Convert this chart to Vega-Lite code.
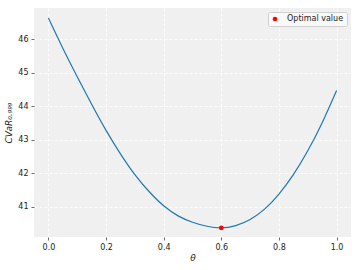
{
  "$schema": "https://vega.github.io/schema/vega-lite/v6.json",
  "width": 317,
  "height": 229,
  "autosize": {"type": "none"},
  "padding": {"left": 34, "top": 8, "right": 9, "bottom": 33},
  "background": "white",
  "config": {
    "font": "DejaVu Sans",
    "view": {"fill": "#f0f0f0", "stroke": null},
    "axis": {
      "domain": false,
      "grid": true,
      "gridColor": "white",
      "gridDash": [3, 2],
      "gridWidth": 0.8,
      "tickColor": "#444",
      "tickSize": 3,
      "tickWidth": 0.8,
      "labelFont": "DejaVu Sans",
      "labelFontSize": 8,
      "labelColor": "#222",
      "titleFont": "DejaVu Sans",
      "titleFontWeight": "normal",
      "titleFontStyle": "italic",
      "titleFontSize": 9,
      "titleColor": "#222"
    }
  },
  "datasets": {
    "curve": [
      {"theta": 0.0, "cvar": 46.63},
      {"theta": 0.05, "cvar": 45.73},
      {"theta": 0.1, "cvar": 44.88},
      {"theta": 0.15, "cvar": 44.06},
      {"theta": 0.2, "cvar": 43.28},
      {"theta": 0.25, "cvar": 42.58},
      {"theta": 0.3, "cvar": 41.96},
      {"theta": 0.35, "cvar": 41.45},
      {"theta": 0.4, "cvar": 41.03},
      {"theta": 0.45, "cvar": 40.73},
      {"theta": 0.5, "cvar": 40.54},
      {"theta": 0.55, "cvar": 40.42},
      {"theta": 0.6, "cvar": 40.37},
      {"theta": 0.65, "cvar": 40.44},
      {"theta": 0.7, "cvar": 40.62},
      {"theta": 0.75, "cvar": 40.93},
      {"theta": 0.8, "cvar": 41.38},
      {"theta": 0.85, "cvar": 41.96},
      {"theta": 0.9, "cvar": 42.67},
      {"theta": 0.95, "cvar": 43.51},
      {"theta": 1.0, "cvar": 44.47}
    ],
    "optimum": [
      {"theta": 0.6, "cvar": 40.37, "label": "Optimal value"}
    ]
  },
  "layer": [
    {
      "data": {"name": "curve"},
      "mark": {"type": "line", "color": "#1f77b4", "strokeWidth": 1.2, "interpolate": "natural"},
      "encoding": {
        "x": {
          "field": "theta", "type": "quantitative",
          "scale": {"domain": [-0.05, 1.05], "nice": false, "zero": false},
          "axis": {"values": [0, 0.2, 0.4, 0.6, 0.8, 1.0], "format": ".1f", "title": "θ", "titlePadding": 2, "labelPadding": 3}
        },
        "y": {
          "field": "cvar", "type": "quantitative",
          "scale": {"domain": [40.1, 46.93], "nice": false, "zero": false},
          "axis": {"values": [41, 42, 43, 44, 45, 46], "format": "d", "title": "CVaR₀.₉₉₉", "titlePadding": 4, "labelPadding": 3}
        }
      }
    },
    {
      "data": {"name": "optimum"},
      "mark": {"type": "point", "filled": true, "opacity": 1, "size": 22, "shape": "circle"},
      "encoding": {
        "x": {"field": "theta", "type": "quantitative"},
        "y": {"field": "cvar", "type": "quantitative"},
        "color": {
          "field": "label", "type": "nominal",
          "scale": {"domain": ["Optimal value"], "range": ["red"]},
          "legend": {
            "title": null,
            "orient": "top-right",
            "offset": 4,
            "padding": 3,
            "fillColor": "#f9f9f9",
            "strokeColor": "#d0d0d0",
            "cornerRadius": 2,
            "labelFont": "DejaVu Sans",
            "labelFontSize": 8,
            "labelColor": "#222",
            "symbolSize": 22,
            "symbolType": "circle",
            "labelOffset": 8
          }
        }
      }
    }
  ]
}
